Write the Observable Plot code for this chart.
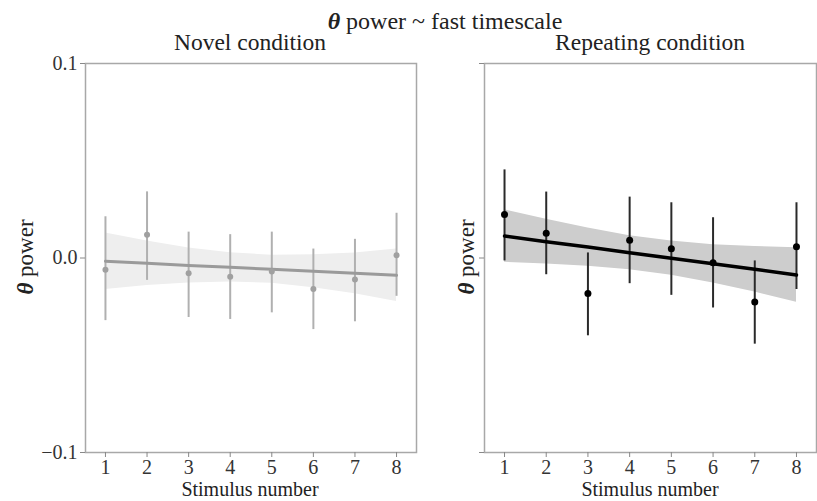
<!DOCTYPE html>
<html>
<head>
<meta charset="utf-8">
<script src="https://cdn.jsdelivr.net/npm/d3@7"></script>
<script src="https://cdn.jsdelivr.net/npm/@observablehq/plot@0.6"></script>
<style>
  html, body { margin: 0; padding: 0; background: #fff; }
  #wrap { position: relative; width: 817px; height: 501px; overflow: hidden; }
  #wrap svg { position: absolute; top: 0; }
  .lbl { font-family: "Times New Roman", "Liberation Serif", Times, serif; fill: #222; }
  .th { font-weight: bold; font-style: italic; }
</style>
</head>
<body>
<div id="wrap">
  <svg id="labels" width="817" height="501" style="left:0; z-index:2; pointer-events:none;">
    <text class="lbl" x="445" y="29" text-anchor="middle" font-size="24"><tspan class="th">θ</tspan> power ~ fast timescale</text>
    <text class="lbl" x="250" y="50" text-anchor="middle" font-size="23.5">Novel condition</text>
    <text class="lbl" x="650" y="50" text-anchor="middle" font-size="23.5">Repeating condition</text>
    <text class="lbl" transform="translate(33,257) rotate(-90)" text-anchor="middle" font-size="23"><tspan class="th">θ</tspan> power</text>
    <text class="lbl" transform="translate(474,257) rotate(-90)" text-anchor="middle" font-size="23"><tspan class="th">θ</tspan> power</text>
    <text class="lbl" id="xl1" x="250" y="496" text-anchor="middle" font-size="20" fill="#333"></text>
    <text class="lbl" id="xl2" x="650" y="496" text-anchor="middle" font-size="20" fill="#333"></text>
  </svg>
</div>
<script>
// ---- data ----
const stimulus = [1, 2, 3, 4, 5, 6, 7, 8];
const xTicks = [1, 2, 3, 4, 5, 6, 7, 8];
const yTicks = [-0.1, 0.0, 0.1];
const yTickLabels = ["\u22120.1", "0.0", "0.1"];
const xLabel = "Stimulus number";

// Novel condition
const novelMean = [-0.0060, 0.0120, -0.0079, -0.0096, -0.0070, -0.0160, -0.0110, 0.0014];
const novelErrLow = [-0.0322, -0.0115, -0.0306, -0.0316, -0.0282, -0.0368, -0.0328, -0.0197];
const novelErrHigh = [0.0212, 0.0340, 0.0133, 0.0120, 0.0133, 0.0046, 0.0096, 0.0230];
const novelFit = [-0.0017, -0.0027, -0.0038, -0.0048, -0.0058, -0.0068, -0.0079, -0.0089];
const novelCiLow = [-0.0162, -0.0142, -0.0128, -0.0123, -0.0130, -0.0153, -0.0184, -0.0224];
const novelCiHigh = [0.0128, 0.0088, 0.0052, 0.0027, 0.0014, 0.0017, 0.0026, 0.0046];

// Repeating condition
const repMean = [0.0224, 0.0127, -0.0183, 0.0091, 0.0048, -0.0024, -0.0226, 0.0058];
const repErrLow = [-0.0015, -0.0086, -0.0400, -0.0132, -0.0192, -0.0257, -0.0443, -0.0162];
const repErrHigh = [0.0453, 0.0339, 0.0026, 0.0313, 0.0284, 0.0207, -0.0015, 0.0284];
const repFit = [0.0113, 0.0084, 0.0056, 0.0027, -0.0001, -0.0030, -0.0058, -0.0087];
const repCiLow = [-0.0022, -0.0031, -0.0042, -0.0061, -0.0089, -0.0128, -0.0175, -0.0227];
const repCiHigh = [0.0248, 0.0199, 0.0154, 0.0115, 0.0087, 0.0068, 0.0059, 0.0053];

document.getElementById("xl1").textContent = xLabel;
document.getElementById("xl2").textContent = xLabel;

function table(mean, lo, hi, fit, ciLo, ciHi) {
  return stimulus.map((x, i) => ({x, mean: mean[i], lo: lo[i], hi: hi[i], fit: fit[i], ciLo: ciLo[i], ciHi: ciHi[i]}));
}

function panel({data, left, width, marginLeft, marginRight, showYLabels, bandFill, lineColor, lineWidth, barColor, dotColor, dotR}) {
  const svg = Plot.plot({
    width, height: 501,
    marginTop: 63, marginBottom: 49, marginLeft, marginRight,
    style: {fontFamily: "'Times New Roman', 'Liberation Serif', Times, serif", fontSize: "20px", background: "transparent", overflow: "visible"},
    x: {domain: [0.52, 8.48]},
    y: {domain: [-0.1, 0.1]},
    marks: [
      Plot.areaY(data, {x: "x", y1: "ciLo", y2: "ciHi", fill: bandFill}),
      Plot.ruleX(data, {x: "x", y1: "lo", y2: "hi", stroke: barColor, strokeWidth: 2}),
      Plot.lineY(data, {x: "x", y: "fit", stroke: lineColor, strokeWidth: lineWidth}),
      Plot.dot(data, {x: "x", y: "mean", r: dotR, fill: dotColor}),
      Plot.frame({stroke: "#a8a8a8", strokeWidth: 1.5}),
      Plot.axisX({ticks: xTicks, tickSize: 5, tickPadding: 2, stroke: "#888", fill: "#333", label: null, tickFormat: d => String(d)}),
      Plot.axisY({ticks: yTicks, tickSize: 5, tickPadding: 3, stroke: "#888", fill: "#333", label: null,
        tickFormat: d => showYLabels ? yTickLabels[yTicks.indexOf(d)] : ""})
    ]
  });
  svg.style.left = left + "px";
  document.getElementById("wrap").insertBefore(svg, document.getElementById("labels"));
}

panel({data: table(novelMean, novelErrLow, novelErrHigh, novelFit, novelCiLow, novelCiHigh),
  left: 0, width: 420, marginLeft: 85, marginRight: 4, showYLabels: true,
  bandFill: "#eeeeee", lineColor: "#9a9a9a", lineWidth: 3, barColor: "#b0b0b0", dotColor: "#a0a0a0", dotR: 3});
panel({data: table(repMean, repErrLow, repErrHigh, repFit, repCiLow, repCiHigh),
  left: 420, width: 397, marginLeft: 64, marginRight: 1, showYLabels: false,
  bandFill: "#cdcdcd", lineColor: "#000", lineWidth: 3.5, barColor: "#2a2a2a", dotColor: "#000", dotR: 3.5});
</script>
</body>
</html>
